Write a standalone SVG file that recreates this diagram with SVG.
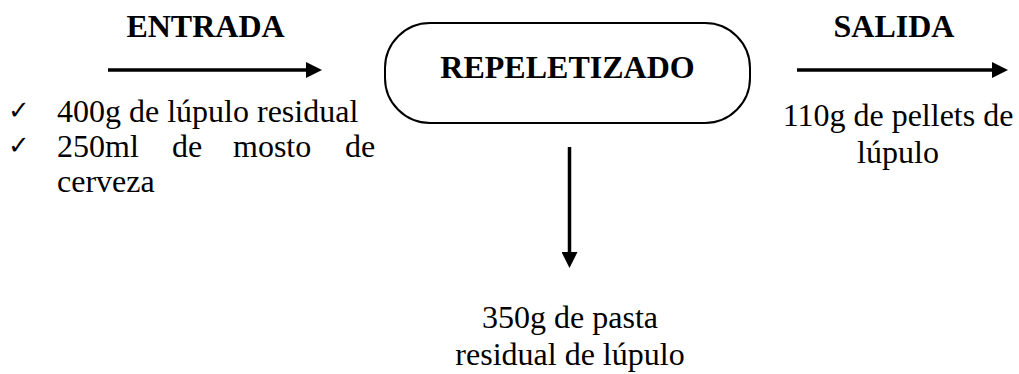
<svg xmlns="http://www.w3.org/2000/svg" width="1019" height="374" viewBox="0 0 1019 374">
<style>
.t{font-family:'Liberation Serif','Times New Roman',Times,'DejaVu Serif','Noto Serif',serif;font-size:32px;fill:#000}
.b{font-weight:bold}
.c{text-anchor:middle}
.ck{font-family:'DejaVu Sans',sans-serif;font-size:26px;font-weight:bold;fill:#000}
.ln{stroke:#000;stroke-width:3.5;fill:none}
</style>
<defs>
<marker id="ah" markerUnits="userSpaceOnUse" markerWidth="16" markerHeight="16" viewBox="0 0 16 16" refX="0" refY="8" orient="auto">
<path d="M0,0 L16,8 L0,16 z" fill="#000"/>
</marker>
</defs>
<rect width="1019" height="374" fill="#fff"/>
<g id="entrada">
<text class="t b c" x="205.5" y="37">ENTRADA</text>
<text class="ck" x="8" y="119">✓</text>
<text class="ck" x="8" y="154">✓</text>
<text class="t" x="57" y="122">400g de lúpulo residual</text>
<text class="t" y="157"><tspan x="57">250ml</tspan><tspan x="172">de</tspan><tspan x="233">mosto</tspan><tspan x="345">de</tspan></text>
<text class="t" x="57" y="192">cerveza</text>
</g>
<g id="repeletizado">
<rect x="385" y="23" width="365" height="100" rx="45" ry="45" fill="#fff" stroke="#000" stroke-width="2"/>
<text class="t b c" x="567.5" y="78">REPELETIZADO</text>
</g>
<g id="salida">
<text class="t b c" x="894" y="37">SALIDA</text>
<text class="t c" x="898" y="126">110g de pellets de</text>
<text class="t c" x="898" y="163">lúpulo</text>
</g>
<g id="residuo">
<text class="t c" x="570" y="328">350g de pasta</text>
<text class="t c" x="570" y="365">residual de lúpulo</text>
</g>
<g id="connectors">
<line class="ln" x1="108" y1="70" x2="306" y2="70" marker-end="url(#ah)"/>
<line class="ln" x1="797" y1="70" x2="992" y2="70" marker-end="url(#ah)"/>
<line class="ln" x1="569.5" y1="147" x2="569.5" y2="252" marker-end="url(#ah)"/>
</g>
</svg>
